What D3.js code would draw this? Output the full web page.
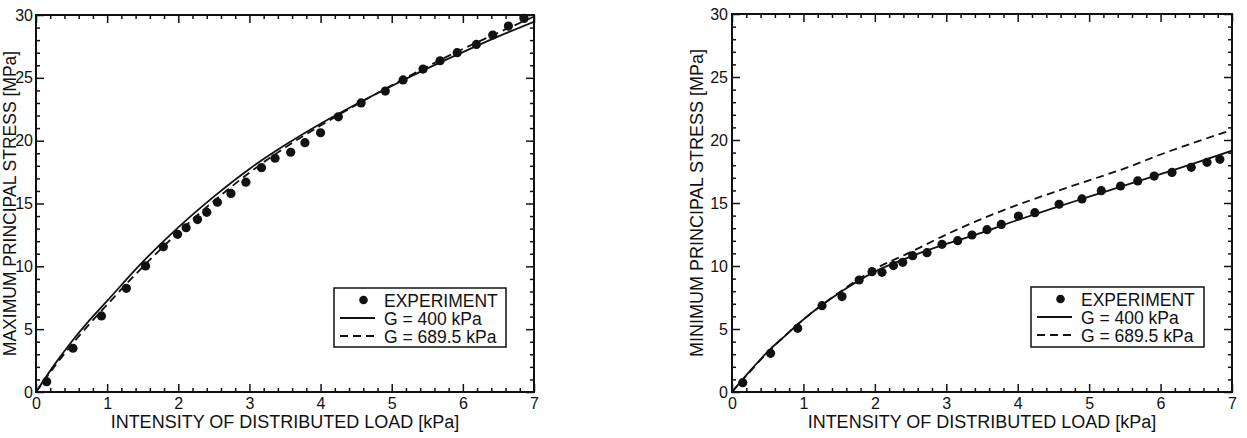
<!DOCTYPE html>
<html>
<head>
<meta charset="utf-8">
<script src="https://cdn.jsdelivr.net/npm/d3@7"></script>
<style>
  html, body { margin: 0; padding: 0; background: #fff; }
  svg { display: block; }
  text { font-family: "Liberation Sans", Arial, Helvetica, sans-serif; fill: #111; }
</style>
</head>
<body>
<svg id="chart" width="1247" height="438"></svg>
<script>
// ---------------- DATA ----------------
const xTicks = [0, 1, 2, 3, 4, 5, 6, 7];
const yTicks = [0, 5, 10, 15, 20, 25, 30];
const xTitle = "INTENSITY OF DISTRIBUTED LOAD [kPa]";
const yTitleMax = "MAXIMUM PRINCIPAL STRESS [MPa]";
const yTitleMin = "MINIMUM PRINCIPAL STRESS [MPa]";
const legendLabels = ["EXPERIMENT", "G = 400 kPa", "G = 689.5 kPa"];

// experiment, maximum principal stress
const expMaxLoad   = [0.15, 0.52, 0.92, 1.27, 1.54, 1.79, 1.99, 2.11, 2.27, 2.40, 2.55, 2.74, 2.95, 3.17, 3.36, 3.58, 3.78, 4.00, 4.25, 4.57, 4.91, 5.16, 5.44, 5.68, 5.92, 6.19, 6.42, 6.64, 6.86];
const expMaxStress = [0.82, 3.48, 6.05, 8.25, 10.03, 11.56, 12.55, 13.07, 13.72, 14.3, 15.1, 15.8, 16.7, 17.85, 18.6, 19.08, 19.84, 20.63, 21.9, 23.0, 23.95, 24.83, 25.7, 26.36, 27.0, 27.66, 28.4, 29.12, 29.73];

// experiment, minimum principal stress
const expMinLoad   = [0.15, 0.54, 0.92, 1.26, 1.54, 1.78, 1.96, 2.10, 2.26, 2.39, 2.53, 2.73, 2.94, 3.16, 3.36, 3.57, 3.77, 4.01, 4.24, 4.58, 4.90, 5.17, 5.44, 5.68, 5.91, 6.16, 6.43, 6.65, 6.83];
const expMinStress = [0.74, 3.07, 5.05, 6.85, 7.57, 8.89, 9.55, 9.50, 10.03, 10.29, 10.82, 11.06, 11.72, 12.01, 12.46, 12.88, 13.3, 13.97, 14.23, 14.9, 15.32, 15.98, 16.35, 16.75, 17.14, 17.43, 17.83, 18.23, 18.47];

// model curves
const modelLoad  = [0, 0.25, 0.5, 0.75, 1, 1.5, 2, 2.5, 3, 3.5, 4, 4.5, 5, 5.5, 6, 6.5, 7];
const maxG400    = [0, 2.1, 4.0, 5.7, 7.25, 10.35, 13.1, 15.55, 17.75, 19.65, 21.35, 22.9, 24.35, 25.75, 27.05, 28.3, 29.47];
const maxG689    = [0, 1.95, 3.75, 5.4, 6.95, 9.95, 12.7, 15.2, 17.45, 19.45, 21.2, 22.85, 24.4, 25.9, 27.3, 28.6, 29.87];
const minG400    = [0, 1.65, 3.2, 4.5, 5.75, 7.85, 9.55, 10.75, 11.75, 12.65, 13.65, 14.6, 15.5, 16.4, 17.3, 18.2, 19.15];
const minG689    = [0, 1.6, 3.15, 4.5, 5.75, 7.9, 9.75, 11.1, 12.5, 13.75, 14.85, 15.85, 16.8, 17.75, 18.85, 19.85, 20.8];

// ---------------- DRAW ----------------
const svg = d3.select("#chart");
svg.append("rect").attr("width", 1247).attr("height", 438).attr("fill", "#fff");

const panels = [
  { id: "L", x0: 36, x1: 534, y0: 15, y1: 392, yTitle: yTitleMax, yTitleX: 16, yTitleSize: 17.5, labelPad: 3,
    expX: expMaxLoad, expY: expMaxStress, s400: maxG400, s689: maxG689,
    legend: { x: 334, y: 288, w: 172, h: 59 } },
  { id: "R", x0: 732, x1: 1232, y0: 14, y1: 392, yTitle: yTitleMin, yTitleX: 703, yTitleSize: 18, labelPad: 4,
    expX: expMinLoad, expY: expMinStress, s400: minG400, s689: minG689,
    legend: { x: 1031, y: 287, w: 173, h: 60 } }
];

const minorX = d3.range(0, 7.0001, 0.2).map(v => +v.toFixed(2)).filter(v => Math.abs(v - Math.round(v)) > 1e-6);
const minorY = d3.range(0, 31, 1).filter(v => v % 5 !== 0);

panels.forEach(p => {
  const x = d3.scaleLinear().domain([0, 7]).range([p.x0, p.x1]);
  const y = d3.scaleLinear().domain([0, 30]).range([p.y1, p.y0]);
  const g = svg.append("g");

  const clipId = "clip" + p.id;
  svg.append("clipPath").attr("id", clipId).append("rect")
    .attr("x", p.x0).attr("y", p.y0).attr("width", p.x1 - p.x0).attr("height", p.y1 - p.y0);

  g.append("text")
    .attr("transform", `translate(${p.yTitleX},${(p.y0 + p.y1) / 2}) rotate(-90)`)
    .attr("text-anchor", "middle")
    .attr("font-size", p.yTitleSize)
    .text(p.yTitle);

  g.append("text")
    .attr("x", (p.x0 + p.x1) / 2).attr("y", 428)
    .attr("text-anchor", "middle")
    .attr("font-size", 18)
    .text(xTitle);

  const styleAxis = (sel) => {
    sel.selectAll("path.domain").remove();
    sel.selectAll("line").attr("stroke", "#111").attr("stroke-width", 1.5);
    sel.selectAll("text").attr("font-size", 16).attr("fill", "#111")
      .attr("font-family", "Liberation Sans, Arial, sans-serif");
  };

  g.append("g").attr("transform", `translate(0,${p.y1})`)
    .call(d3.axisBottom(x).tickValues(xTicks).tickFormat(d3.format("d")).tickSizeInner(-8).tickSizeOuter(0).tickPadding(6))
    .call(styleAxis);
  g.append("g").attr("transform", `translate(0,${p.y1})`)
    .call(d3.axisBottom(x).tickValues(minorX).tickFormat("").tickSizeInner(-4).tickSizeOuter(0))
    .call(styleAxis);
  g.append("g").attr("transform", `translate(0,${p.y0})`)
    .call(d3.axisTop(x).tickValues(xTicks).tickFormat("").tickSizeInner(-8).tickSizeOuter(0))
    .call(styleAxis);
  g.append("g").attr("transform", `translate(0,${p.y0})`)
    .call(d3.axisTop(x).tickValues(minorX).tickFormat("").tickSizeInner(-4).tickSizeOuter(0))
    .call(styleAxis);
  g.append("g").attr("transform", `translate(${p.x0},0)`)
    .call(d3.axisLeft(y).tickValues(yTicks).tickFormat(d3.format("d")).tickSizeInner(-8).tickSizeOuter(0).tickPadding(p.labelPad))
    .call(styleAxis);
  g.append("g").attr("transform", `translate(${p.x0},0)`)
    .call(d3.axisLeft(y).tickValues(minorY).tickFormat("").tickSizeInner(-4).tickSizeOuter(0))
    .call(styleAxis);
  g.append("g").attr("transform", `translate(${p.x1},0)`)
    .call(d3.axisRight(y).tickValues(yTicks).tickFormat("").tickSizeInner(-8).tickSizeOuter(0))
    .call(styleAxis);
  g.append("g").attr("transform", `translate(${p.x1},0)`)
    .call(d3.axisRight(y).tickValues(minorY).tickFormat("").tickSizeInner(-4).tickSizeOuter(0))
    .call(styleAxis);

  g.append("rect").attr("x", p.x0).attr("y", p.y0)
    .attr("width", p.x1 - p.x0).attr("height", p.y1 - p.y0)
    .attr("fill", "none").attr("stroke", "#111").attr("stroke-width", 2);

  const plot = g.append("g").attr("clip-path", `url(#${clipId})`);
  const line = d3.line().x(d => x(d[0])).y(d => y(d[1])).curve(d3.curveMonotoneX);

  plot.append("path").datum(modelLoad.map((v, i) => [v, p.s400[i]]))
    .attr("d", line).attr("fill", "none").attr("stroke", "#111").attr("stroke-width", 1.8);
  plot.append("path").datum(modelLoad.map((v, i) => [v, p.s689[i]]))
    .attr("d", line).attr("fill", "none").attr("stroke", "#111").attr("stroke-width", 1.8)
    .attr("stroke-dasharray", "8,5");

  g.append("g").selectAll("circle").data(p.expX.map((v, i) => [v, p.expY[i]]))
    .join("circle")
    .attr("cx", d => x(d[0])).attr("cy", d => y(d[1])).attr("r", 4.6)
    .attr("fill", "#111");

  const L = p.legend;
  const lg = g.append("g");
  lg.append("rect").attr("x", L.x).attr("y", L.y).attr("width", L.w).attr("height", L.h)
    .attr("fill", "#fff").attr("stroke", "#111").attr("stroke-width", 1.5);
  const rowY = [L.y + 12, L.y + 30, L.y + 48];
  const sx0 = L.x + 6, sx1 = L.x + 41, tx = L.x + 50;
  lg.append("circle").attr("cx", (sx0 + sx1) / 2 + 6).attr("cy", rowY[0]).attr("r", 4.3).attr("fill", "#111");
  lg.append("line").attr("x1", sx0).attr("x2", sx1).attr("y1", rowY[1]).attr("y2", rowY[1])
    .attr("stroke", "#111").attr("stroke-width", 1.8);
  lg.append("line").attr("x1", sx0).attr("x2", sx1).attr("y1", rowY[2]).attr("y2", rowY[2])
    .attr("stroke", "#111").attr("stroke-width", 1.8).attr("stroke-dasharray", "8,5");
  legendLabels.forEach((t, i) => {
    lg.append("text").attr("x", tx).attr("y", rowY[i] + 7).attr("font-size", 17.5).text(t);
  });
});
</script>
</body>
</html>
